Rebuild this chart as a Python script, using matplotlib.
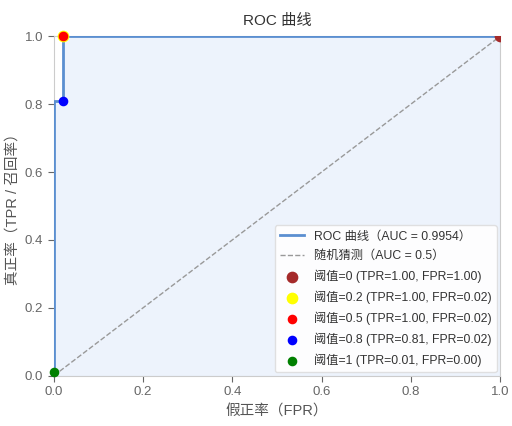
import matplotlib
matplotlib.use('Agg')
import matplotlib.pyplot as plt

plt.rcParams['font.family'] = ['Liberation Sans', 'Noto Sans CJK SC', 'DejaVu Sans']
plt.rcParams['axes.unicode_minus'] = False

# ROC curve points
fpr = [0.0, 0.0, 0.0, 0.02, 0.02, 1.0]
tpr = [0.0, 0.01, 0.81, 0.81, 1.0, 1.0]
auc_value = 0.9954

# threshold markers
thresholds = ['0', '0.2', '0.5', '0.8', '1']
thr_tpr = [1.00, 1.00, 1.00, 0.81, 0.01]
thr_fpr = [1.00, 0.02, 0.02, 0.02, 0.00]
thr_colors = ['brown', 'yellow', 'red', 'blue', 'green']
thr_sizes = [55, 55, 35, 35, 35]

gray = '#555555'
fig, ax = plt.subplots(figsize=(5.12, 4.26), dpi=100)
fig.subplots_adjust(left=0.105, right=0.977, top=0.915, bottom=0.118)

ax.plot(fpr, tpr, color='#5b8fd0', lw=2, label=f'ROC 曲线（AUC = {auc_value:.4f}）', zorder=3)
ax.fill_between(fpr, tpr, color='#dce9fb', alpha=0.5, zorder=1)
ax.plot([0, 1], [0, 1], color='#999999', lw=1, ls='--', label='随机猜测（AUC = 0.5）', zorder=2)

for t, y, x, c, s in zip(thresholds, thr_tpr, thr_fpr, thr_colors, thr_sizes):
    ax.scatter(x, y, color=c, s=s, zorder=4, clip_on=(x == 1.0),
               label=f'阈值={t} (TPR={y:.2f}, FPR={x:.2f})')

ax.set_xlim(0, 1)
ax.set_ylim(0, 1.0)
ax.set_xticks([0, 0.2, 0.4, 0.6, 0.8, 1.0])
ax.set_yticks([0, 0.2, 0.4, 0.6, 0.8, 1.0])
ax.set_title('ROC 曲线', fontsize=11, color='#333333', pad=8)
ax.set_xlabel('假正率（FPR）', fontsize=10.5, color=gray)
ax.set_ylabel('真正率（TPR / 召回率）', fontsize=10.5, color=gray)
ax.tick_params(colors='#666666', labelsize=9.5, length=4)
for sp in ax.spines.values():
    sp.set_color('#cccccc')

leg = ax.legend(loc='lower right', fontsize=8.8, labelspacing=0.62, framealpha=0.9,
                edgecolor='#dddddd', borderaxespad=0.3)
for txt in leg.get_texts():
    txt.set_color('#333333')

plt.savefig('out.png', dpi=100)
